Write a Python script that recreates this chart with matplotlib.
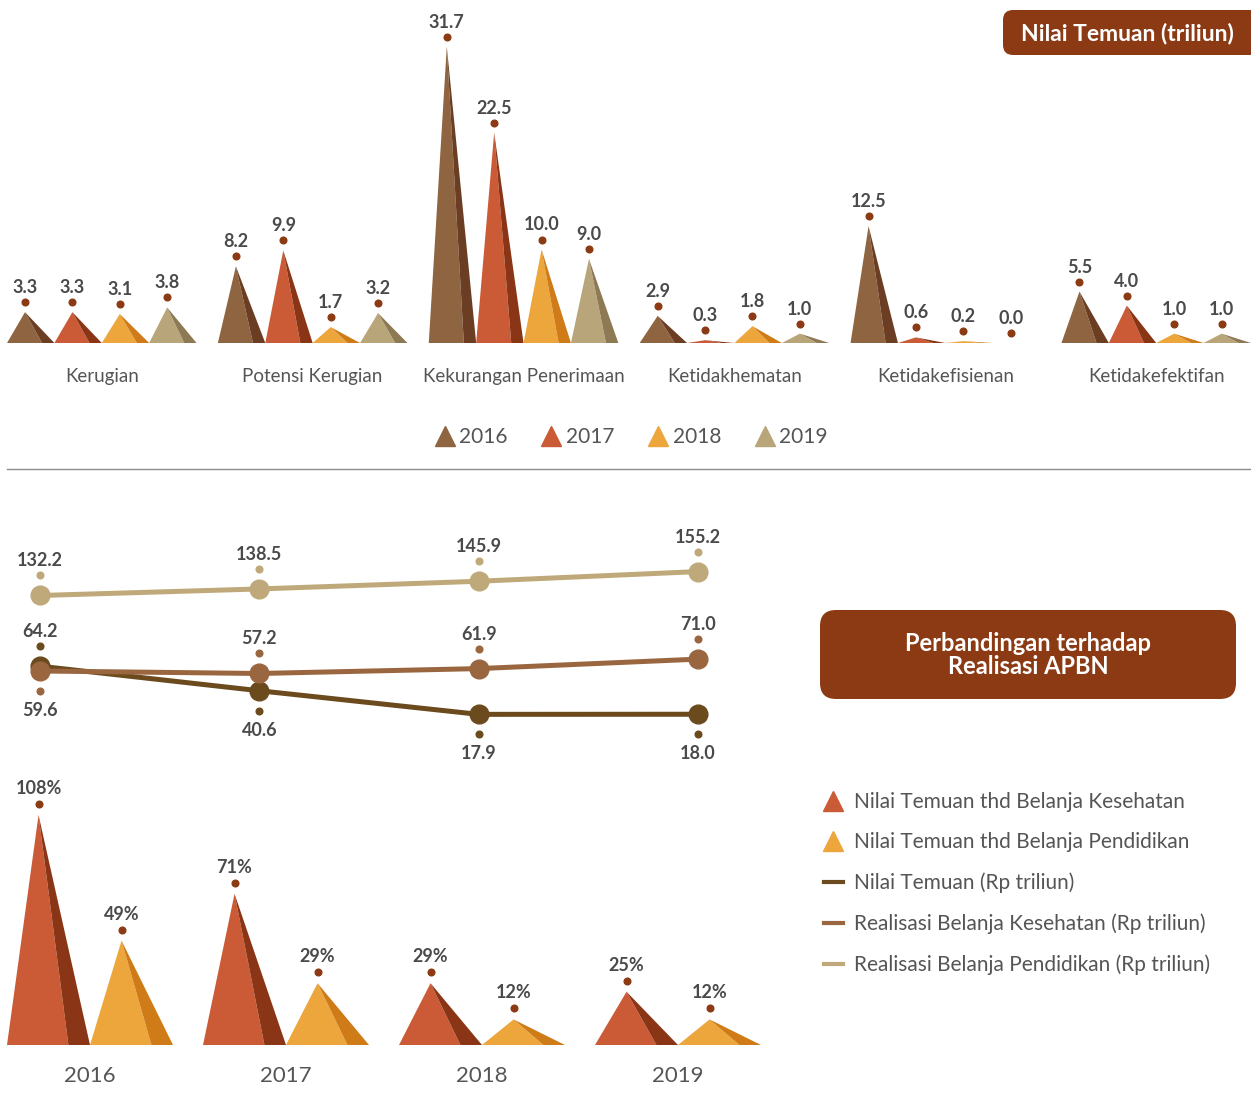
import matplotlib
matplotlib.use('Agg')
import matplotlib.pyplot as plt
from matplotlib.lines import Line2D
from matplotlib.patches import FancyBboxPatch
from matplotlib.transforms import offset_copy

plt.rcParams['font.family'] = ['Lato', 'DejaVu Sans']

# --- data ---
categories = ['Kerugian', 'Potensi Kerugian', 'Kekurangan Penerimaan',
              'Ketidakhematan', 'Ketidakefisienan', 'Ketidakefektifan']
years = ['2016', '2017', '2018', '2019']
temuan_2016 = [3.3, 8.2, 31.7, 2.9, 12.5, 5.5]
temuan_2017 = [3.3, 9.9, 22.5, 0.3, 0.6, 4.0]
temuan_2018 = [3.1, 1.7, 10.0, 1.8, 0.2, 1.0]
temuan_2019 = [3.8, 3.2, 9.0, 1.0, 0.0, 1.0]

nilai_temuan = [64.2, 40.6, 17.9, 18.0]
belanja_kesehatan = [59.6, 57.2, 61.9, 71.0]
belanja_pendidikan = [132.2, 138.5, 145.9, 155.2]

pct_kesehatan = [108, 71, 29, 25]
pct_pendidikan = [49, 29, 12, 12]

legend_labels = ['Nilai Temuan thd Belanja Kesehatan',
                 'Nilai Temuan thd Belanja Pendidikan',
                 'Nilai Temuan (Rp triliun)',
                 'Realisasi Belanja Kesehatan (Rp triliun)',
                 'Realisasi Belanja Pendidikan (Rp triliun)']

# colours
light = ['#8E6540', '#CB5A37', '#EDA63C', '#B9A57A']
dark = ['#6B3E24', '#8A3616', '#CF7C18', '#8D7A55']
DOT = '#8B3A14'
LABEL = '#4A4A4A'
TEXT = '#555555'
BOX = '#8B3A14'
c_nilai, c_kes, c_pend = '#6B4A1E', '#9A6640', '#BFA97A'

W, H = 1251, 1105
fig = plt.figure(figsize=(W / 100, H / 100), dpi=100)


def px_axes(left, top, right, bottom, **kw):
    return fig.add_axes([left / W, 1 - bottom / H, (right - left) / W, (bottom - top) / H], **kw)


def draw_peak(ax, x0, h, c_light, c_dark):
    apex = x0 + 0.38
    split = x0 + 0.74
    ax.fill([x0, apex, split], [0, h, 0], color=c_light, lw=0)
    ax.fill([apex, x0 + 1, split], [h, 0, 0], color=c_dark, lw=0)
    return apex


def label_point(ax, x, y, text, dot_px, text_px, dot_color, above=True):
    sign = 1 if above else -1
    ax.plot(x, y, 'o', ms=4.8, color=dot_color, clip_on=False, zorder=5,
            transform=offset_copy(ax.transData, fig=fig, y=sign * dot_px, units='dots'))
    ax.annotate(text, (x, y), xytext=(0, sign * text_px * 0.72), textcoords='offset points',
                ha='center', va='baseline' if above else 'top', fontsize=13,
                fontweight='bold', color=LABEL, annotation_clip=False)


# decoration layer in pixel coordinates
deco = fig.add_axes([0, 0, 1, 1], zorder=-1)
deco.set_xlim(0, W)
deco.set_ylim(H, 0)
deco.axis('off')
deco.plot([7, W], [469, 469], color='#8C8C8C', lw=1)
deco.add_patch(FancyBboxPatch((1003, 10), 280, 45, boxstyle='round,pad=0,rounding_size=10',
                              fc=BOX, ec='none'))
deco.text(1127, 34, 'Nilai Temuan (triliun)', color='white', fontsize=16.5, fontweight='bold',
          ha='center', va='center')
deco.add_patch(FancyBboxPatch((820, 610), 416, 89, boxstyle='round,pad=0,rounding_size=16',
                              fc=BOX, ec='none'))
deco.text(1028, 655, 'Perbandingan terhadap\nRealisasi APBN', color='white', fontsize=17,
          fontweight='bold', ha='center', va='center', linespacing=1.05)

# --- top: nilai temuan per kategori ---
pitch = 4.45
ax_top = px_axes(7, 0, 1251, 343)
ax_top.set_xlim(0, 5 * pitch + 4)
ax_top.set_ylim(0, 343 / 9.35)
series = [temuan_2016, temuan_2017, temuan_2018, temuan_2019]
for g in range(len(categories)):
    for s, vals in enumerate(series):
        apex = draw_peak(ax_top, g * pitch + s, vals[g], light[s], dark[s])
        label_point(ax_top, apex, vals[g], f'{vals[g]:.1f}', 10, 19, DOT)
ax_top.set_xticks([g * pitch + 2 for g in range(len(categories))])
ax_top.set_xticklabels(categories, fontsize=13.5, color=TEXT)
ax_top.tick_params(length=0, pad=18)
ax_top.set_yticks([])
for sp in ax_top.spines.values():
    sp.set_visible(False)
ax_top.patch.set_visible(False)

year_handles = [Line2D([], [], ls='', marker='^', ms=15, color=c) for c in light]
fig.legend(year_handles, years, loc='center', bbox_to_anchor=(630 / W, 1 - 437 / H), ncol=4,
           frameon=False, fontsize=15, labelcolor=TEXT, handletextpad=0.1, columnspacing=1.5,
           handlelength=1.2)

# --- bottom: line chart realisasi ---
ax_line = px_axes(0, 520, 760, 760)
ax_line.set_xlim(-40 / 219.3, 720 / 219.3)
ax_line.set_ylim(-26, 204.8)
ax_line.axis('off')
xs = list(range(len(years)))
ax_line.plot(xs, belanja_pendidikan, '-o', color=c_pend, lw=3.6, ms=13.5, zorder=2)
ax_line.plot(xs, nilai_temuan, '-o', color=c_nilai, lw=3.6, ms=13.5, zorder=3)
ax_line.plot(xs, belanja_kesehatan, '-o', color=c_kes, lw=3.6, ms=13.5, zorder=4)
pend_above = [True, True, True, True]
kes_above = [False, True, True, True]
nilai_above = [True, False, False, False]
for i in xs:
    label_point(ax_line, i, belanja_pendidikan[i], f'{belanja_pendidikan[i]:.1f}', 20,
                29 if pend_above[i] else 31, c_pend, pend_above[i])
    label_point(ax_line, i, belanja_kesehatan[i], f'{belanja_kesehatan[i]:.1f}', 20,
                29 if kes_above[i] else 31, c_kes, kes_above[i])
    label_point(ax_line, i, nilai_temuan[i], f'{nilai_temuan[i]:.1f}', 20,
                29 if nilai_above[i] else 31, c_nilai, nilai_above[i])

# --- bottom: persentase ---
pitch2 = 196 / 83
ax_pct = px_axes(7, 780, 7 + 83 * (3 * pitch2 + 2), 1045)
ax_pct.set_xlim(0, 3 * pitch2 + 2)
ax_pct.set_ylim(0, 265 / 2.13)
for g in range(len(years)):
    a = draw_peak(ax_pct, g * pitch2, pct_kesehatan[g], light[1], dark[1])
    label_point(ax_pct, a, pct_kesehatan[g], f'{pct_kesehatan[g]}%', 11, 21, DOT)
    a = draw_peak(ax_pct, g * pitch2 + 1, pct_pendidikan[g], light[2], dark[2])
    label_point(ax_pct, a, pct_pendidikan[g], f'{pct_pendidikan[g]}%', 11, 21, DOT)
ax_pct.set_xticks([g * pitch2 + 1 for g in range(len(years))])
ax_pct.set_xticklabels(years, fontsize=16, color=TEXT)
ax_pct.tick_params(length=0, pad=15)
ax_pct.set_yticks([])
for sp in ax_pct.spines.values():
    sp.set_visible(False)
ax_pct.patch.set_visible(False)

leg_handles = [Line2D([], [], ls='', marker='^', ms=15, color=light[1]),
               Line2D([], [], ls='', marker='^', ms=15, color=light[2]),
               Line2D([], [], color=c_nilai, lw=3),
               Line2D([], [], color=c_kes, lw=3),
               Line2D([], [], color=c_pend, lw=3)]
fig.legend(leg_handles, legend_labels, loc='upper left', bbox_to_anchor=(824 / W, 1 - 792 / H),
           frameon=False, fontsize=15, labelcolor=TEXT, handlelength=0.9, handletextpad=0.55,
           labelspacing=0.98, borderpad=0, borderaxespad=0)

fig.savefig('out.png', dpi=100)
